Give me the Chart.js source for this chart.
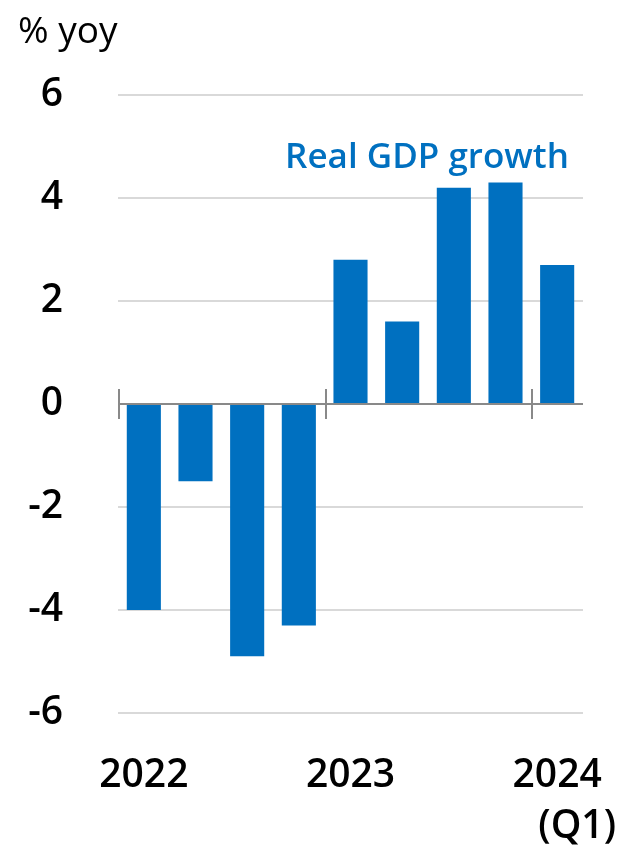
<!DOCTYPE html>
<html>
<head>
<meta charset="utf-8">
<script src="https://cdn.jsdelivr.net/npm/chart.js@4/dist/chart.umd.min.js"></script>
<style>
  html, body { margin: 0; padding: 0; background: #fff; }
  #wrap { width: 620px; height: 850px; }
</style>
</head>
<body>
<div id="wrap"><canvas id="gdp" width="620" height="850"></canvas></div>
<script>
// quarters 2022 Q1 .. 2024 Q1
var quarters = ["2022Q1", "2022Q2", "2022Q3", "2022Q4", "2023Q1", "2023Q2", "2023Q3", "2023Q4", "2024Q1"];
var growth = [-4.0, -1.5, -4.9, -4.3, 2.8, 1.6, 4.2, 4.3, 2.7];
var yearLabels = [[0, "2022"], [4, "2023"], [8, "2024"]];
var yearBreaks = [0, 4, 8];

var FONT = "'Open Sans', 'Noto Sans', sans-serif";
var BLUE = "#0070C0";

// zero line, year tick marks, labels
var extras = {
  id: "extras",
  beforeDatasetsDraw(chart) {
    var ctx = chart.ctx, x = chart.scales.x, y = chart.scales.y;
    var area = chart.chartArea;
    var y0 = y.getPixelForValue(0);
    var half = (x.getPixelForValue(1) - x.getPixelForValue(0)) / 2;
    ctx.save();
    ctx.strokeStyle = "#898989";
    ctx.lineWidth = 2;
    ctx.beginPath();
    ctx.moveTo(area.left, y0);
    ctx.lineTo(area.right, y0);
    yearBreaks.forEach(function (i) {
      var bx = Math.round(x.getPixelForValue(i) - half) + 1;
      ctx.moveTo(bx, y0 - 15);
      ctx.lineTo(bx, y0 + 15);
    });
    ctx.stroke();
    ctx.restore();
  },
  afterDraw(chart) {
    var ctx = chart.ctx, x = chart.scales.x;
    ctx.save();
    ctx.fillStyle = "#000";
    ctx.textBaseline = "alphabetic";
    ctx.textAlign = "center";
    ctx.font = "600 39px " + FONT;
    yearLabels.forEach(function (p) {
      ctx.fillText(p[1], x.getPixelForValue(p[0]), 787);
    });
    ctx.fillText("(Q1)", x.getPixelForValue(8) + 20, 838);

    ctx.textAlign = "left";
    ctx.font = "400 37px " + FONT;
    ctx.fillText("% yoy", 18, 43);

    ctx.textAlign = "center";
    ctx.fillStyle = BLUE;
    ctx.font = "600 35px " + FONT;
    ctx.fillText("Real GDP growth", 427, 168);
    ctx.restore();
  }
};

new Chart(document.getElementById("gdp").getContext("2d"), {
  type: "bar",
  data: {
    labels: quarters,
    datasets: [{
      data: growth,
      backgroundColor: BLUE,
      borderWidth: 0,
      barPercentage: 0.66,
      categoryPercentage: 1.0
    }]
  },
  options: {
    responsive: false,
    animation: false,
    layout: { padding: { top: 95, bottom: 137, left: 0, right: 37 } },
    plugins: { legend: { display: false }, tooltip: { enabled: false } },
    scales: {
      x: { display: false, offset: true },
      y: {
        min: -6,
        max: 6,
        afterFit(s) { s.width = 118; },
        border: { display: false },
        grid: {
          drawTicks: false,
          lineWidth: 2,
          color: function (c) { return c.tick.value === 0 ? "rgba(0,0,0,0)" : "#d9d9d9"; }
        },
        ticks: {
          stepSize: 2,
          padding: 55,
          color: "#000",
          font: { family: FONT, size: 39, weight: "600" }
        }
      }
    }
  },
  plugins: [extras]
});
</script>
</body>
</html>
